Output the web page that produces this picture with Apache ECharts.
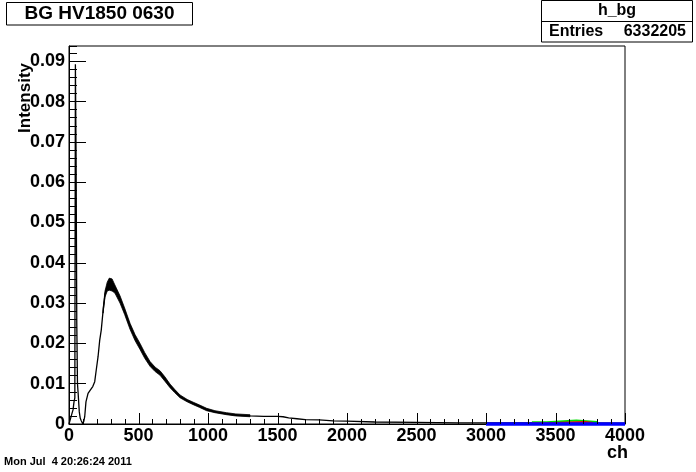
<!DOCTYPE html>
<html>
<head>
<meta charset="utf-8">
<script src="https://cdn.jsdelivr.net/npm/echarts@6/dist/echarts.min.js"></script>
<style>
html,body{margin:0;padding:0;background:#fff;}
#c{width:696px;height:472px;}
</style>
</head>
<body>
<div id="c"></div>
<script>
// ---- data ----
const channels = [0,14,22,29,36,42,46,51,56,61,65,74,81,88,99,106,113,122,137,153,171,185,196,209,221,232,245,259,275,290,310,330,367,400,439,475,511,545,583,620,655,690,727,760,799,850,894,940,990,1050,1134,1200,1302,1400,1500,1540,1580,1640,1700,1800,1900,2000,2200,2500,2800,3000,3300,3600,4000];
const intensity = [0,0.0003,0.0027,0.0035,0.0055,0.0065,0.0893,0.066,0.025,0.010,0.008,0.003,0.0014,0.0008,0.0001,0.0006,0.0018,0.0055,0.0076,0.0084,0.0093,0.0105,0.0134,0.0167,0.0208,0.0233,0.028,0.0322,0.0341,0.0347,0.0345,0.0335,0.0309,0.028,0.0243,0.0215,0.0192,0.017,0.0149,0.0135,0.0127,0.0111,0.0094,0.0082,0.0068,0.0058,0.0051,0.0044,0.0036,0.003,0.0025,0.0022,0.002,0.0019,0.0019,0.0018,0.0015,0.0013,0.0011,0.001,0.0008,0.0007,0.0005,0.0004,0.0003,0.0003,0.0003,0.0003,0.0002];

// statistical fluctuation envelope of the histogram (lower / upper edge)
const bandChannels = [245,259,275,290,310,330,367,400,439,475,511,545,583,620,655,690,727,760,799,850,894,940,990,1050,1134,1200,1302];
const bandLow  = [0.0275,0.0315,0.0330,0.0332,0.0330,0.0325,0.0300,0.0272,0.0235,0.0207,0.0185,0.0163,0.0143,0.0130,0.0121,0.0106,0.0090,0.0078,0.0065,0.0055,0.0048,0.0041,0.0033,0.0028,0.0023,0.0020,0.0018];
const bandHigh = [0.0285,0.0330,0.0352,0.0362,0.0360,0.0345,0.0318,0.0288,0.0250,0.0222,0.0200,0.0177,0.0155,0.0141,0.0132,0.0117,0.0099,0.0086,0.0072,0.0061,0.0054,0.0047,0.0039,0.0033,0.0028,0.0025,0.0023];

// coloured histograms in the 3000-4000 range
const greenCh  = [3330,3437,3650,3800,3800];
const greenVal = [0.00045,0.00087,0.0005,0.0005,0];
const redCh    = [3330,3437,3712,3770,3770];
const redVal   = [0.0002,0.0005,0.00025,0.00025,0];
const blueCh   = [3000,4000];
const blueVal  = [0,0];

const xTicks = {min:0, max:4000, step:500, minorStep:100};
const yTicks = {min:0, max:0.0938, step:0.01, minorStep:0.002};

const titleText = 'BG HV1850 0630';
const statName = 'h_bg';
const statEntries = '6332205';
const dateText = 'Mon Jul  4 20:26:24 2011';

// ---- chart ----
const FONT = '"Liberation Sans", Arial, Helvetica, sans-serif';
const pairs = (xs, ys) => xs.map((x, i) => [x, ys[i]]);

// x tick values along the axis range (major every step, minor every minorStep)
const xTickValues = [];
for (let v = xTicks.min; v <= xTicks.max + 1e-9; v += xTicks.minorStep) xTickValues.push(v);

const chart = echarts.init(document.getElementById('c'), null, {renderer: 'canvas'});
const axisLabelStyle = {color:'#000', fontFamily: FONT, fontWeight:'bold', fontSize:18};

function renderBand(params, api) {
  if (params.dataIndex > 0) return null;
  const pts = [];
  for (let i = 0; i < bandChannels.length; i++) pts.push(api.coord([bandChannels[i], bandHigh[i]]));
  for (let i = bandChannels.length - 1; i >= 0; i--) pts.push(api.coord([bandChannels[i], bandLow[i]]));
  return {type:'polygon', shape:{points:pts}, style:{fill:'#000', stroke:'#000', lineWidth:0.8}};
}

function renderXTick(params, api) {
  const v = api.value(0);
  const p = api.coord([v, yTicks.min]);
  const isMajor = Math.abs(v / xTicks.step - Math.round(v / xTicks.step)) < 1e-6;
  const len = isMajor ? 11 : 5;
  const x = Math.round(p[0]) + 0.5;
  return {type:'line', shape:{x1:x, y1:p[1], x2:x, y2:p[1] - len}, style:{stroke:'#000', lineWidth:1}, silent:true};
}

chart.setOption({
  animation: false,
  backgroundColor: '#fff',
  grid: {left:69, right:71, top:46, bottom:48, show:true, borderColor:'#000', borderWidth:1},
  xAxis: {
    type:'value', position:'bottom', min:xTicks.min, max:xTicks.max, interval:xTicks.step, z:5,
    axisLine:{show:true, onZero:false, lineStyle:{color:'#000', width:1}},
    axisTick:{show:false},
    splitLine:{show:false},
    axisLabel:Object.assign({margin:3, formatter: v => String(v)}, axisLabelStyle)
  },
  yAxis: [{
    type:'value', position:'left', min:yTicks.min, max:yTicks.max, interval:yTicks.step, z:5,
    axisLine:{show:true, lineStyle:{color:'#000', width:1}},
    axisTick:{show:true, inside:true, length:17, lineStyle:{color:'#000', width:1}},
    splitLine:{show:false},
    axisLabel:Object.assign({margin:4, showMaxLabel:false,
      formatter: v => v === 0 ? '0' : v.toFixed(2)}, axisLabelStyle)
  },{
    type:'value', position:'left', min:yTicks.min, max:yTicks.max, interval:yTicks.minorStep, z:5,
    axisLine:{show:false},
    axisTick:{show:true, inside:true, length:8, lineStyle:{color:'#000', width:1}},
    splitLine:{show:false},
    axisLabel:{show:false}
  }],
  series: [
    {type:'custom', name:'xticks', coordinateSystem:'cartesian2d', renderItem:renderXTick,
     data:xTickValues.map(v => [v, yTicks.min]), z:6, silent:true},
    {type:'line', name:'h_bg', data:pairs(channels, intensity), symbol:'none',
     lineStyle:{color:'#000', width:1.3}, z:2},
    {type:'custom', name:'band', coordinateSystem:'cartesian2d', renderItem:renderBand,
     data:[[bandChannels[0], bandLow[0]]], z:2},
    {type:'line', name:'green', data:pairs(greenCh, greenVal), step:'end', symbol:'none',
     lineStyle:{color:'#00dd00', width:1.8}, z:3},
    {type:'line', name:'red', data:pairs(redCh, redVal), step:'end', symbol:'none',
     lineStyle:{color:'#ee0000', width:1.8}, z:4},
    {type:'line', name:'blue', data:pairs(blueCh, blueVal), symbol:'none', clip:false,
     lineStyle:{color:'#0000ff', width:3.5}, z:5}
  ],
  graphic: [
    {type:'rect', shape:{x:6.5, y:2.5, width:186, height:22.5}, style:{fill:'#fff', stroke:'#000', lineWidth:1}},
    {type:'text', x:99.5, y:14, style:{text:titleText, font:'bold 19px '+FONT, fill:'#000', align:'center', verticalAlign:'middle'}},
    {type:'rect', shape:{x:541.5, y:0.5, width:151, height:41.5}, style:{fill:'#fff', stroke:'#000', lineWidth:1}},
    {type:'line', shape:{x1:541.5, y1:21.5, x2:692.5, y2:21.5}, style:{stroke:'#000', lineWidth:1}},
    {type:'text', x:617, y:11, style:{text:statName, font:'bold 16px '+FONT, fill:'#000', align:'center', verticalAlign:'middle'}},
    {type:'text', x:549, y:32, style:{text:'Entries', font:'bold 16px '+FONT, fill:'#000', align:'left', verticalAlign:'middle'}},
    {type:'text', x:686, y:32, style:{text:statEntries, font:'bold 16px '+FONT, fill:'#000', align:'right', verticalAlign:'middle'}},
    {type:'text', x:25, y:63, rotation:Math.PI/2, style:{text:'Intensity', font:'bold 17px '+FONT, fill:'#000', align:'right', verticalAlign:'middle'}},
    {type:'text', x:628, y:453, style:{text:'ch', font:'bold 18px '+FONT, fill:'#000', align:'right', verticalAlign:'middle'}},
    {type:'text', x:4, y:462, style:{text:dateText, font:'bold 11px '+FONT, fill:'#000', align:'left', verticalAlign:'middle'}}
  ]
});
</script>
</body>
</html>
